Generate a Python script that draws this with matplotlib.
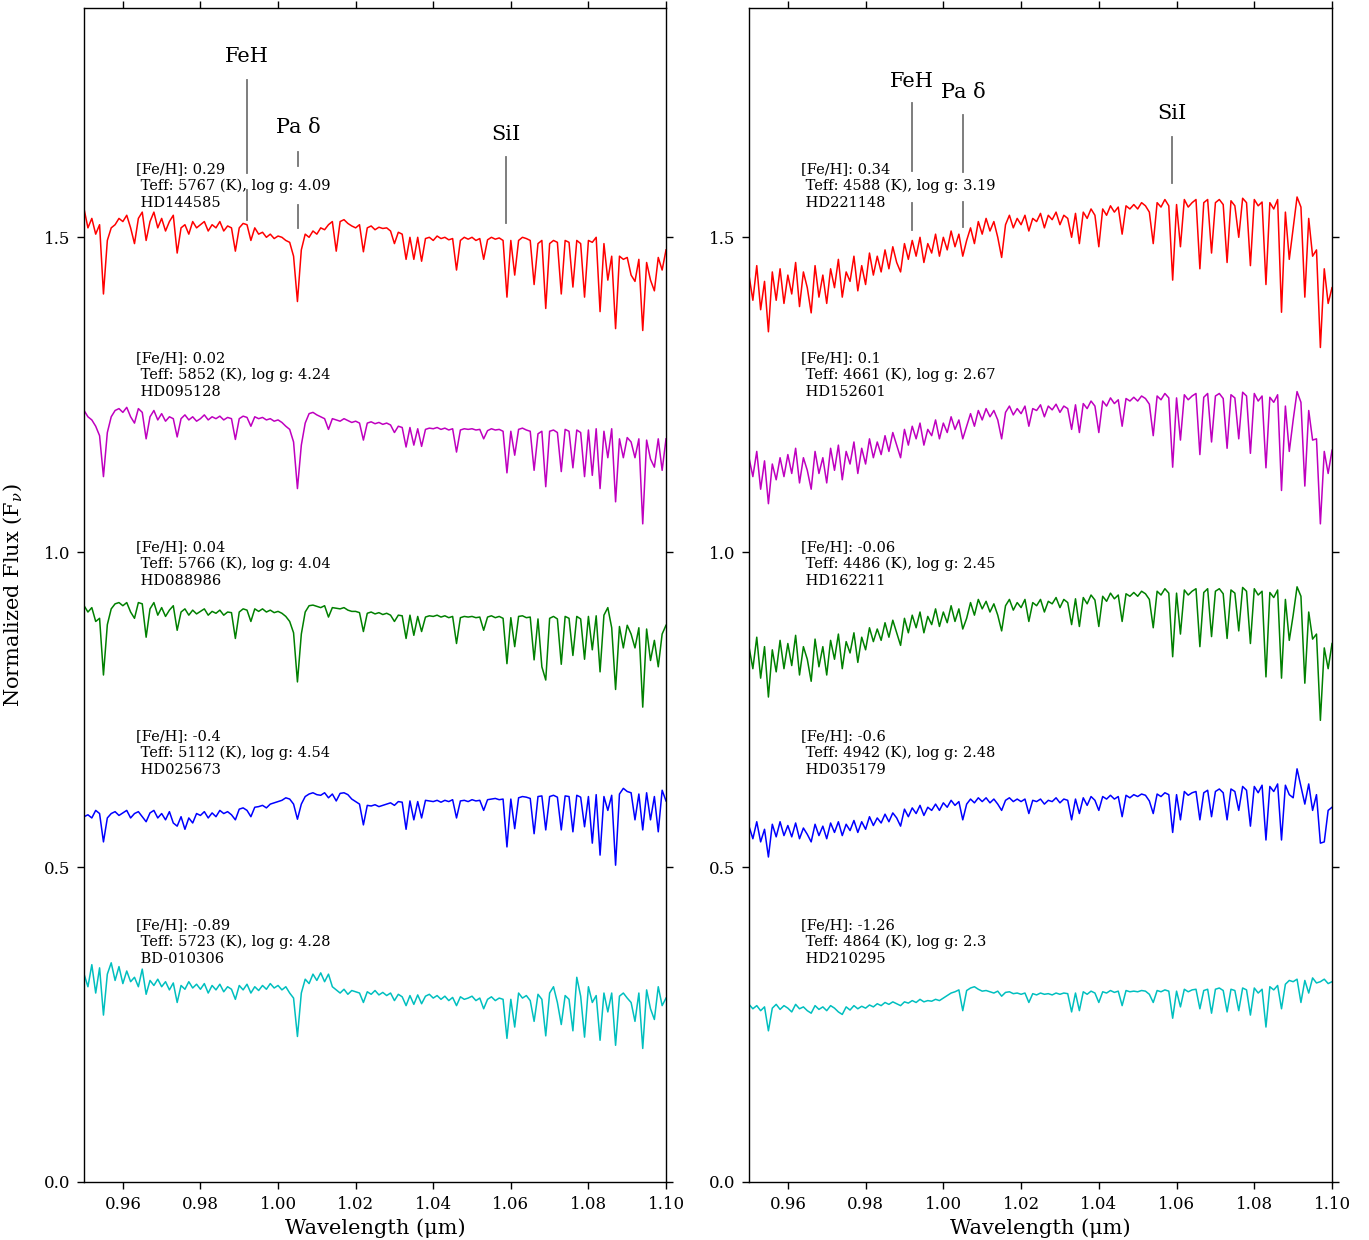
import numpy as np
import matplotlib.pyplot as plt

plt.rcParams['font.family'] = 'DejaVu Serif'
plt.rcParams['mathtext.fontset'] = 'dejavuserif'

# wavelength grid (micron), 0.001 step
wave = np.round(np.arange(0.950, 1.1005, 0.001), 3)

# ---- left panel: dwarfs (flux already offset as plotted) ----
dwarf_red = [
    1.545, 1.515, 1.530, 1.505, 1.520, 1.410, 1.495, 1.515, 1.520, 1.530,
    1.525, 1.535, 1.515, 1.490, 1.530, 1.540, 1.495, 1.525, 1.540, 1.515,
    1.530, 1.510, 1.525, 1.535, 1.475, 1.515, 1.520, 1.505, 1.525, 1.515,
    1.520, 1.525, 1.510, 1.520, 1.515, 1.525, 1.510, 1.518, 1.515, 1.478,
    1.515, 1.522, 1.520, 1.495, 1.515, 1.505, 1.508, 1.500, 1.505, 1.498,
    1.502, 1.500, 1.495, 1.492, 1.470, 1.398, 1.480, 1.505, 1.500, 1.510,
    1.505, 1.515, 1.512, 1.520, 1.525, 1.478, 1.525, 1.528, 1.522, 1.518,
    1.515, 1.520, 1.477, 1.515, 1.518, 1.512, 1.516, 1.514, 1.515, 1.510,
    1.490, 1.508, 1.505, 1.465, 1.500, 1.465, 1.500, 1.462, 1.498, 1.500,
    1.495, 1.502, 1.498, 1.500, 1.496, 1.498, 1.448, 1.495, 1.500, 1.497,
    1.500, 1.495, 1.498, 1.465, 1.496, 1.500, 1.497, 1.499, 1.495, 1.405,
    1.495, 1.440, 1.495, 1.500, 1.498, 1.495, 1.425, 1.490, 1.495, 1.387,
    1.490, 1.495, 1.492, 1.410, 1.495, 1.492, 1.421, 1.495, 1.490, 1.405,
    1.495, 1.492, 1.500, 1.382, 1.490, 1.432, 1.470, 1.355, 1.470, 1.465,
    1.468, 1.440, 1.430, 1.465, 1.352, 1.460, 1.432, 1.415, 1.468, 1.448,
    1.480]
dwarf_magenta = [
    1.225, 1.215, 1.210, 1.200, 1.185, 1.120, 1.190, 1.215, 1.225, 1.228,
    1.222, 1.230, 1.215, 1.205, 1.228, 1.222, 1.180, 1.215, 1.225, 1.210,
    1.220, 1.208, 1.215, 1.212, 1.183, 1.212, 1.218, 1.210, 1.215, 1.208,
    1.212, 1.218, 1.210, 1.215, 1.212, 1.216, 1.210, 1.214, 1.212, 1.179,
    1.212, 1.216, 1.214, 1.200, 1.215, 1.212, 1.214, 1.210, 1.212, 1.208,
    1.210, 1.206, 1.200, 1.195, 1.175, 1.101, 1.170, 1.205, 1.220, 1.222,
    1.218, 1.215, 1.212, 1.195, 1.212, 1.210, 1.208, 1.212, 1.209, 1.206,
    1.208, 1.205, 1.178, 1.205, 1.207, 1.204, 1.206, 1.203, 1.205, 1.202,
    1.190, 1.200, 1.198, 1.167, 1.198, 1.170, 1.196, 1.168, 1.195, 1.197,
    1.196, 1.198, 1.195, 1.197, 1.194, 1.196, 1.159, 1.194, 1.196, 1.195,
    1.196, 1.194, 1.195, 1.180, 1.193, 1.196, 1.194, 1.195, 1.192, 1.126,
    1.192, 1.154, 1.195, 1.197, 1.194, 1.192, 1.130, 1.188, 1.192, 1.104,
    1.192, 1.194, 1.190, 1.128, 1.195, 1.192, 1.134, 1.194, 1.190, 1.120,
    1.194, 1.122, 1.196, 1.101, 1.192, 1.150, 1.196, 1.080, 1.180, 1.150,
    1.182, 1.175, 1.150, 1.180, 1.045, 1.178, 1.148, 1.135, 1.180, 1.130,
    1.180]
dwarf_green = [
    0.915, 0.905, 0.912, 0.890, 0.895, 0.805, 0.885, 0.910, 0.918, 0.920,
    0.915, 0.920, 0.905, 0.895, 0.920, 0.918, 0.865, 0.910, 0.920, 0.900,
    0.912, 0.898, 0.908, 0.915, 0.876, 0.905, 0.910, 0.900, 0.908, 0.902,
    0.906, 0.910, 0.900, 0.906, 0.903, 0.908, 0.900, 0.905, 0.904, 0.863,
    0.905, 0.910, 0.908, 0.890, 0.910, 0.906, 0.910, 0.905, 0.908, 0.904,
    0.906, 0.903, 0.898, 0.890, 0.872, 0.794, 0.870, 0.905, 0.915, 0.916,
    0.914, 0.912, 0.915, 0.897, 0.912, 0.911, 0.910, 0.912, 0.908, 0.906,
    0.906, 0.904, 0.874, 0.903, 0.905, 0.902, 0.904, 0.901, 0.903, 0.900,
    0.890, 0.900, 0.899, 0.863, 0.900, 0.868, 0.898, 0.874, 0.897, 0.899,
    0.898, 0.900, 0.897, 0.899, 0.896, 0.898, 0.855, 0.896, 0.898, 0.897,
    0.898, 0.896, 0.897, 0.876, 0.897, 0.899, 0.896, 0.898, 0.895, 0.823,
    0.896, 0.850, 0.898, 0.899, 0.896, 0.897, 0.829, 0.894, 0.818, 0.797,
    0.895, 0.898, 0.894, 0.822, 0.898, 0.895, 0.836, 0.898, 0.894, 0.830,
    0.898, 0.845, 0.899, 0.810, 0.900, 0.912, 0.880, 0.782, 0.882, 0.848,
    0.884, 0.870, 0.848, 0.880, 0.754, 0.878, 0.828, 0.860, 0.818, 0.870,
    0.884]
dwarf_blue = [
    0.580, 0.583, 0.578, 0.590, 0.585, 0.540, 0.578, 0.585, 0.588, 0.582,
    0.586, 0.590, 0.578, 0.585, 0.588, 0.580, 0.572, 0.586, 0.590, 0.578,
    0.585, 0.575, 0.588, 0.570, 0.565, 0.580, 0.560, 0.578, 0.570, 0.585,
    0.582, 0.588, 0.578, 0.586, 0.580, 0.590, 0.585, 0.588, 0.583, 0.575,
    0.592, 0.594, 0.590, 0.580, 0.595, 0.596, 0.598, 0.594, 0.600, 0.602,
    0.604, 0.606, 0.610, 0.608, 0.600, 0.576, 0.600, 0.612, 0.616, 0.618,
    0.615, 0.614, 0.618, 0.610, 0.616, 0.605, 0.617, 0.618, 0.615, 0.608,
    0.604, 0.600, 0.567, 0.598, 0.597, 0.599, 0.596, 0.598, 0.600, 0.602,
    0.598, 0.604, 0.603, 0.560, 0.605, 0.575, 0.604, 0.578, 0.606, 0.605,
    0.604, 0.606, 0.603, 0.606, 0.604, 0.607, 0.578, 0.605, 0.606, 0.604,
    0.607, 0.605, 0.606, 0.590, 0.607, 0.608, 0.609, 0.607, 0.608, 0.532,
    0.608, 0.561, 0.610, 0.612, 0.611, 0.609, 0.553, 0.612, 0.613, 0.559,
    0.612, 0.614, 0.611, 0.559, 0.613, 0.612, 0.556, 0.614, 0.611, 0.564,
    0.612, 0.538, 0.615, 0.519, 0.612, 0.590, 0.614, 0.503, 0.616, 0.625,
    0.620, 0.618, 0.575, 0.616, 0.559, 0.618, 0.575, 0.612, 0.556, 0.622,
    0.605]
dwarf_cyan = [
    0.330, 0.310, 0.345, 0.300, 0.340, 0.265, 0.330, 0.348, 0.320, 0.342,
    0.315, 0.335, 0.318, 0.325, 0.310, 0.338, 0.298, 0.320, 0.312, 0.322,
    0.310, 0.318, 0.305, 0.316, 0.285, 0.312, 0.306, 0.318, 0.308, 0.314,
    0.306, 0.315, 0.300, 0.312, 0.305, 0.314, 0.302, 0.310, 0.306, 0.290,
    0.312, 0.305, 0.314, 0.300, 0.310, 0.304, 0.312, 0.306, 0.315, 0.308,
    0.312, 0.305, 0.310, 0.300, 0.292, 0.231, 0.300, 0.322, 0.315, 0.330,
    0.320, 0.332, 0.318, 0.330, 0.310, 0.305, 0.300, 0.306, 0.298, 0.304,
    0.302, 0.300, 0.285, 0.302, 0.298, 0.304, 0.297, 0.301, 0.296, 0.300,
    0.288, 0.298, 0.294, 0.280, 0.296, 0.282, 0.297, 0.283, 0.295, 0.298,
    0.292, 0.296, 0.290, 0.295, 0.288, 0.293, 0.280, 0.294, 0.290, 0.292,
    0.295, 0.288, 0.292, 0.275, 0.290, 0.294, 0.288, 0.292, 0.290, 0.228,
    0.290, 0.246, 0.300, 0.292, 0.296, 0.288, 0.255, 0.298, 0.290, 0.232,
    0.300, 0.310, 0.285, 0.250, 0.296, 0.290, 0.240, 0.325, 0.295, 0.230,
    0.310, 0.285, 0.296, 0.225, 0.300, 0.270, 0.300, 0.217, 0.295, 0.300,
    0.292, 0.285, 0.255, 0.300, 0.212, 0.305, 0.275, 0.258, 0.310, 0.280,
    0.292]

# ---- right panel: giants ----
giant_red = [
    1.440, 1.400, 1.455, 1.385, 1.430, 1.350, 1.445, 1.400, 1.450, 1.395,
    1.440, 1.410, 1.460, 1.390, 1.445, 1.420, 1.380, 1.455, 1.405, 1.440,
    1.395, 1.450, 1.420, 1.465, 1.405, 1.445, 1.430, 1.470, 1.415, 1.455,
    1.425, 1.475, 1.440, 1.470, 1.445, 1.480, 1.450, 1.485, 1.460, 1.445,
    1.490, 1.465, 1.495, 1.470, 1.500, 1.460, 1.490, 1.475, 1.505, 1.470,
    1.500, 1.480, 1.510, 1.485, 1.505, 1.470, 1.495, 1.515, 1.490, 1.525,
    1.505, 1.530, 1.510, 1.525, 1.500, 1.468, 1.520, 1.535, 1.515, 1.530,
    1.520, 1.535, 1.510, 1.530, 1.525, 1.538, 1.515, 1.535, 1.528, 1.540,
    1.520, 1.535, 1.530, 1.500, 1.538, 1.490, 1.540, 1.530, 1.545, 1.535,
    1.485, 1.545, 1.535, 1.550, 1.540, 1.548, 1.505, 1.550, 1.545, 1.552,
    1.545, 1.555, 1.550, 1.540, 1.490, 1.555, 1.548, 1.560, 1.550, 1.432,
    1.552, 1.485, 1.560, 1.548, 1.555, 1.560, 1.450, 1.555, 1.560, 1.475,
    1.555, 1.560, 1.552, 1.460, 1.558, 1.550, 1.500, 1.562, 1.555, 1.455,
    1.560, 1.550, 1.556, 1.425, 1.555, 1.545, 1.560, 1.381, 1.540, 1.465,
    1.515, 1.564, 1.548, 1.405, 1.530, 1.470, 1.480, 1.325, 1.450, 1.395,
    1.420]
giant_magenta = [
    1.150, 1.120, 1.160, 1.100, 1.145, 1.077, 1.140, 1.115, 1.150, 1.120,
    1.155, 1.125, 1.165, 1.110, 1.150, 1.130, 1.100, 1.160, 1.125, 1.150,
    1.110, 1.165, 1.130, 1.170, 1.115, 1.160, 1.140, 1.175, 1.125, 1.165,
    1.140, 1.180, 1.150, 1.175, 1.155, 1.185, 1.160, 1.190, 1.170, 1.150,
    1.195, 1.170, 1.200, 1.180, 1.205, 1.170, 1.195, 1.185, 1.210, 1.180,
    1.205, 1.190, 1.215, 1.195, 1.210, 1.180, 1.200, 1.220, 1.200, 1.225,
    1.210, 1.228, 1.215, 1.225, 1.210, 1.180, 1.222, 1.232, 1.218, 1.228,
    1.220, 1.232, 1.200, 1.228, 1.225, 1.234, 1.215, 1.232, 1.226, 1.235,
    1.222, 1.232, 1.228, 1.195, 1.234, 1.190, 1.236, 1.228, 1.240, 1.232,
    1.190, 1.240, 1.232, 1.245, 1.236, 1.242, 1.200, 1.244, 1.240, 1.246,
    1.240, 1.248, 1.244, 1.235, 1.185, 1.248, 1.242, 1.252, 1.245, 1.135,
    1.245, 1.178, 1.250, 1.242, 1.248, 1.252, 1.155, 1.246, 1.252, 1.175,
    1.248, 1.252, 1.244, 1.165, 1.250, 1.245, 1.180, 1.254, 1.248, 1.157,
    1.252, 1.240, 1.248, 1.134, 1.246, 1.238, 1.250, 1.098, 1.232, 1.160,
    1.210, 1.255, 1.238, 1.105, 1.225, 1.178, 1.180, 1.045, 1.160, 1.125,
    1.162]
giant_green = [
    0.850, 0.815, 0.865, 0.800, 0.850, 0.770, 0.845, 0.810, 0.860, 0.815,
    0.855, 0.820, 0.868, 0.805, 0.850, 0.830, 0.795, 0.862, 0.818, 0.850,
    0.805, 0.860, 0.830, 0.870, 0.815, 0.858, 0.840, 0.872, 0.825, 0.865,
    0.845, 0.880, 0.858, 0.878, 0.860, 0.888, 0.865, 0.892, 0.872, 0.852,
    0.895, 0.872, 0.900, 0.880, 0.905, 0.872, 0.898, 0.885, 0.910, 0.882,
    0.905, 0.888, 0.915, 0.890, 0.910, 0.878, 0.895, 0.920, 0.900, 0.925,
    0.910, 0.922, 0.905, 0.918, 0.900, 0.875, 0.915, 0.925, 0.908, 0.920,
    0.912, 0.925, 0.890, 0.920, 0.915, 0.925, 0.905, 0.922, 0.918, 0.928,
    0.912, 0.925, 0.920, 0.885, 0.926, 0.882, 0.928, 0.918, 0.932, 0.924,
    0.882, 0.930, 0.922, 0.935, 0.926, 0.932, 0.890, 0.934, 0.930, 0.936,
    0.930, 0.938, 0.934, 0.925, 0.880, 0.938, 0.932, 0.942, 0.935, 0.834,
    0.935, 0.870, 0.940, 0.932, 0.938, 0.942, 0.850, 0.936, 0.942, 0.866,
    0.938, 0.942, 0.934, 0.863, 0.940, 0.935, 0.875, 0.944, 0.938, 0.855,
    0.942, 0.932, 0.938, 0.802, 0.936, 0.928, 0.940, 0.800, 0.925, 0.860,
    0.900, 0.945, 0.930, 0.792, 0.905, 0.862, 0.870, 0.733, 0.848, 0.815,
    0.855]
giant_blue = [
    0.565, 0.545, 0.572, 0.540, 0.560, 0.516, 0.568, 0.548, 0.572, 0.550,
    0.566, 0.548, 0.570, 0.545, 0.562, 0.552, 0.540, 0.568, 0.550, 0.565,
    0.545, 0.570, 0.555, 0.572, 0.550, 0.568, 0.558, 0.574, 0.555, 0.572,
    0.560, 0.580, 0.566, 0.578, 0.570, 0.584, 0.572, 0.586, 0.578, 0.565,
    0.592, 0.580, 0.594, 0.585, 0.598, 0.582, 0.595, 0.590, 0.600, 0.590,
    0.602, 0.595, 0.606, 0.598, 0.604, 0.575, 0.600, 0.608, 0.602, 0.610,
    0.604, 0.610, 0.602, 0.608, 0.600, 0.590, 0.606, 0.610, 0.604, 0.608,
    0.604, 0.608, 0.585, 0.606, 0.604, 0.608, 0.600, 0.606, 0.604, 0.610,
    0.602, 0.608, 0.606, 0.575, 0.608, 0.585, 0.610, 0.598, 0.612, 0.606,
    0.590, 0.612, 0.608, 0.614, 0.608, 0.612, 0.580, 0.614, 0.610, 0.615,
    0.612, 0.616, 0.614, 0.605, 0.585, 0.616, 0.612, 0.618, 0.615, 0.555,
    0.615, 0.575, 0.620, 0.614, 0.618, 0.620, 0.575, 0.618, 0.622, 0.580,
    0.620, 0.624, 0.618, 0.575, 0.624, 0.620, 0.590, 0.628, 0.622, 0.565,
    0.628, 0.618, 0.630, 0.543, 0.628, 0.620, 0.632, 0.543, 0.630, 0.615,
    0.610, 0.656, 0.628, 0.600, 0.632, 0.590, 0.615, 0.538, 0.540, 0.590,
    0.595]
giant_cyan = [
    0.282, 0.275, 0.280, 0.272, 0.278, 0.240, 0.276, 0.282, 0.274, 0.280,
    0.276, 0.270, 0.282, 0.275, 0.278, 0.272, 0.268, 0.280, 0.274, 0.278,
    0.272, 0.280, 0.276, 0.270, 0.266, 0.278, 0.273, 0.280, 0.275, 0.279,
    0.276, 0.281, 0.278, 0.283, 0.280, 0.285, 0.282, 0.286, 0.283, 0.280,
    0.286, 0.284, 0.288, 0.285, 0.290, 0.286, 0.288, 0.287, 0.290, 0.288,
    0.292, 0.296, 0.300, 0.302, 0.305, 0.272, 0.304, 0.308, 0.310, 0.306,
    0.303, 0.304, 0.302, 0.300, 0.303, 0.295, 0.301, 0.302, 0.299, 0.300,
    0.298, 0.300, 0.285, 0.299, 0.297, 0.300, 0.298, 0.299, 0.297, 0.300,
    0.298, 0.300, 0.299, 0.270, 0.300, 0.272, 0.302, 0.298, 0.303, 0.300,
    0.285, 0.302, 0.300, 0.304, 0.301, 0.303, 0.280, 0.304, 0.302, 0.303,
    0.302, 0.304, 0.303, 0.298, 0.285, 0.304, 0.302, 0.305, 0.303, 0.260,
    0.303, 0.278, 0.306, 0.302, 0.305, 0.306, 0.275, 0.304, 0.306, 0.268,
    0.306, 0.308, 0.304, 0.270, 0.306, 0.304, 0.272, 0.308, 0.305, 0.265,
    0.308, 0.300, 0.306, 0.246, 0.310, 0.305, 0.312, 0.275, 0.314, 0.320,
    0.318, 0.322, 0.285, 0.320, 0.300, 0.324, 0.316, 0.318, 0.322, 0.315,
    0.318]

colors = ['r', 'm', 'g', 'b', 'c']

dwarf_feh = ['0.29', '0.02', '0.04', '-0.4', '-0.89']
dwarf_teff = ['5767', '5852', '5766', '5112', '5723']
dwarf_logg = ['4.09', '4.24', '4.04', '4.54', '4.28']
dwarf_names = ['HD144585', 'HD095128', 'HD088986', 'HD025673', 'BD-010306']

giant_feh = ['0.34', '0.1', '-0.06', '-0.6', '-1.26']
giant_teff = ['4588', '4661', '4486', '4942', '4864']
giant_logg = ['3.19', '2.67', '2.45', '2.48', '2.3']
giant_names = ['HD221148', 'HD152601', 'HD162211', 'HD035179', 'HD210295']

label_y = [1.543, 1.243, 0.943, 0.643, 0.343]

# spectral feature markers
feat_names = ['FeH', 'Pa δ', 'SiI']
feat_wave = [0.992, 1.0051, 1.0588]
left_text_y = [1.787, 1.675, 1.663]
left_segs = [[(1.749, 1.602), (1.575, 1.527)],
             [(1.635, 1.614), (1.551, 1.514)],
             [(1.627, 1.522)]]
right_text_y = [1.748, 1.730, 1.697]
right_segs = [[(1.714, 1.606), (1.554, 1.511)],
              [(1.694, 1.603), (1.556, 1.516)],
              [(1.660, 1.586)]]

fig = plt.figure(figsize=(13.69, 12.4), dpi=100)
ax1 = fig.add_axes([0.0614, 0.0468, 0.4251, 0.9467])
ax2 = fig.add_axes([0.5471, 0.0468, 0.4259, 0.9467])

panels = [
    (ax1, [dwarf_red, dwarf_magenta, dwarf_green, dwarf_blue, dwarf_cyan],
     dwarf_feh, dwarf_teff, dwarf_logg, dwarf_names, left_text_y, left_segs),
    (ax2, [giant_red, giant_magenta, giant_green, giant_blue, giant_cyan],
     giant_feh, giant_teff, giant_logg, giant_names, right_text_y, right_segs),
]

for ax, spectra, feh, teff, logg, names, ty, segs in panels:
    for k, flux in enumerate(spectra):
        ax.plot(wave, flux, color=colors[k], lw=1.1)
        txt = '[Fe/H]: %s\n Teff: %s (K), log g: %s\n %s' % (feh[k], teff[k], logg[k], names[k])
        ax.text(0.9633, label_y[k], txt, fontsize=10.5, va='bottom', ha='left',
                linespacing=1.25)
    for j, w in enumerate(feat_wave):
        ax.text(w, ty[j], feat_names[j], fontsize=15, ha='center', va='center')
        for (y0, y1) in segs[j]:
            ax.plot([w, w], [y0, y1], color='0.45', lw=1.3)

    ax.set_xlim(0.95, 1.10)
    ax.set_ylim(0, 1.864)
    ax.set_xticks(np.arange(0.96, 1.101, 0.02))
    ax.set_xticklabels(['%.2f' % v for v in np.arange(0.96, 1.101, 0.02)])
    ax.set_yticks([0.0, 0.5, 1.0, 1.5])
    ax.set_yticklabels(['0.0', '0.5', '1.0', '1.5'])
    ax.tick_params(direction='out', length=5, width=1, top=True, right=True,
                   labelsize=12, pad=5)
    for s in ax.spines.values():
        s.set_linewidth(1.0)
    ax.set_xlabel('Wavelength (μm)', fontsize=15, labelpad=4)

ax1.set_ylabel(r'Normalized Flux (F$_\nu$)', fontsize=15, labelpad=14)

fig.savefig('out.png', dpi=100)
